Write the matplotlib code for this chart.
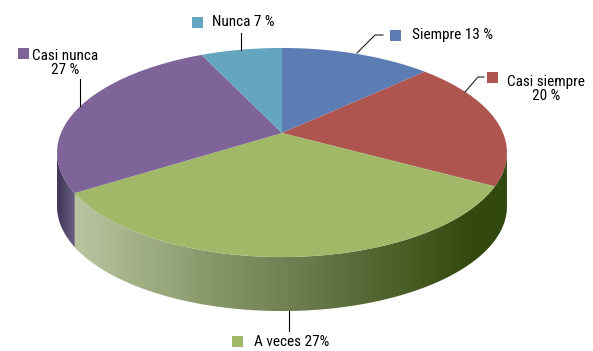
import matplotlib
matplotlib.use('Agg')
import matplotlib.pyplot as plt
import numpy as np
from matplotlib.patches import Polygon, Rectangle

categories = ['Siempre', 'Casi siempre', 'A veces', 'Casi nunca', 'Nunca']
shares = [13, 20, 33, 27, 7]
colors = ['#5B7DB4', '#AF5550', '#A0B868', '#7E6499', '#64A5C0']
labels = ['Siempre 13 %', 'Casi siempre\n20 %', 'A veces 27%', 'Casi nunca\n27 %', 'Nunca 7 %']

plt.rcParams['font.family'] = ['Roboto Condensed', 'Liberation Sans', 'DejaVu Sans']

# pie geometry in pixels, tilted so the near side looks bigger
cx, cy = 282, 133
a, b, k = 221, 100.9, 0.1866
depth = 54


def rim(theta):
    t = np.radians(theta)
    w = 1 + k * np.sin(t)
    return cx + a * np.cos(t) / w, cy - b * np.sin(t) / w


def side(ax, t0, t1, cmap_colors, x0, x1):
    # wall below the rim between two angles, filled with a horizontal gradient
    xs, ys = rim(np.linspace(t0, t1, 150))
    pts = np.r_[np.c_[xs, ys], np.c_[xs, ys + depth][::-1]]
    poly = Polygon(pts, closed=True, fc='none', ec='none')
    ax.add_patch(poly)
    cmap = matplotlib.colors.LinearSegmentedColormap.from_list('s', cmap_colors)
    im = ax.imshow(np.linspace(0, 1, 256)[None, :], cmap=cmap, aspect='auto',
                   extent=(x0, x1, 351, 0), zorder=1)
    im.set_clip_path(poly)


fig = plt.figure(figsize=(5.93, 3.51), dpi=100)
ax = fig.add_axes([0, 0, 1, 1])

# walls, purple first so the green one closes the seam
edges = 90 - np.cumsum([0] + shares) * 3.6
green_start = edges[3] + 360
side(ax, 190.75, green_start + 1.5, ['#3C3355', '#72698C'], 57, 78)
side(ax, green_start, 349.25,
     [(0, '#BAC59F'), (0.29, '#8C9B6E'), (0.52, '#6E7D50'), (0.753, '#4B5F28'),
      (0.915, '#34490F'), (1, '#31480E')], 74, 507)

# top faces
for i, name in enumerate(categories):
    th = np.linspace(edges[i], edges[i + 1], 100)
    xs, ys = rim(th)
    ax.add_patch(Polygon(np.r_[[[cx, cy]], np.c_[xs, ys]], closed=True,
                         fc=colors[i], ec='none', zorder=2, label=name))

# leader lines
ax.plot([241, 241], [33, 50], color='black', lw=0.8, zorder=3)
ax.plot([80, 80], [79, 106], color='black', lw=0.8, zorder=3)
ax.plot([357, 375, 383], [53, 35, 35], color='#222222', lw=0.8, zorder=3)
ax.plot([465, 478, 484], [92, 77, 77], color='#222222', lw=0.8, zorder=3)
ax.plot([289, 289], [311, 331], color='black', lw=0.8, zorder=3)

# labels with their colour keys
squares = [(390, 30), (487, 72), (232, 336), (18, 48), (192, 17)]
for (sx, sy), c in zip(squares, colors):
    ax.add_patch(Rectangle((sx, sy), 11, 11, fc=c, ec='none', zorder=3))

fs = 11
ax.text(452, 35, labels[0], fontsize=fs, ha='center', va='center')
ax.text(546, 89, labels[1], fontsize=fs, ha='center', va='center', linespacing=1.05)
ax.text(292, 342, labels[2], fontsize=fs, ha='center', va='center')
ax.text(65, 63, labels[3], fontsize=fs, ha='center', va='center', linespacing=1.05)
ax.text(243, 22, labels[4], fontsize=fs, ha='center', va='center')

ax.set_xlim(0, 593)
ax.set_ylim(351, 0)
ax.axis('off')
fig.savefig('out.png', dpi=100)
